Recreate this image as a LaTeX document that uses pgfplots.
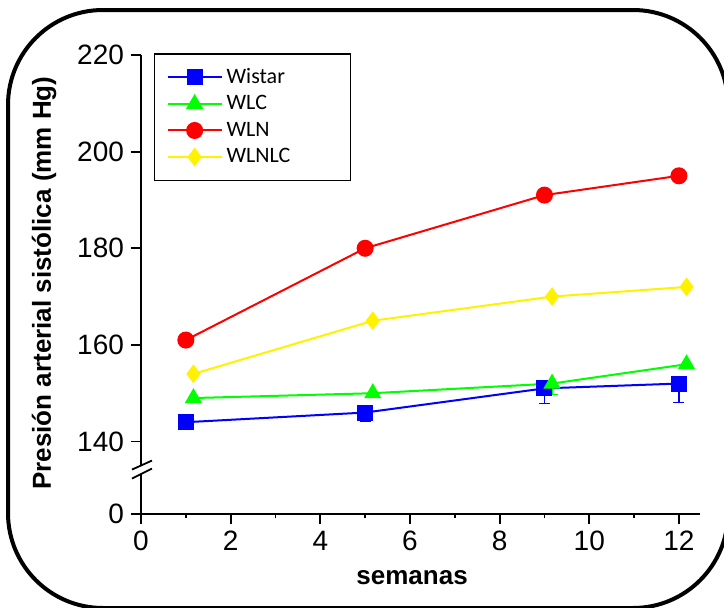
\documentclass[border=0pt]{standalone}
\usepackage{fontspec}
\setmainfont{Liberation Sans}
\newfontfamily\carlito{Carlito}
\usepackage{pgfplots}
\usepackage{pgfplotstable}
\pgfplotsset{compat=1.18}

\pgfplotstableread{
x y em
1 144 0
5 146 1.8
9 151 3.1
12 152 3.9
}\wistar
\pgfplotstableread{
x y em
1.17 149 0
5.17 150 0
9.17 152 2.2
12.17 156 0
}\wlc
\pgfplotstableread{
x y
1 161
5 180
9 191
12 195
}\wln
\pgfplotstableread{
x y
1.17 154
5.17 165
9.17 170
12.17 172
}\wlnlc

\begin{document}
\begin{tikzpicture}
\useasboundingbox (0,0) rectangle (362pt,303.5pt);
\draw[line width=2pt, rounded corners=47.5pt] (4pt,-0.5pt) rectangle (364pt,298.5pt);
\begin{axis}[
  at={(70.5pt,46.5pt)}, anchor=south west,
  scale only axis, width=279.5pt, height=229.5pt,
  xmin=0, xmax=12.47, ymin=125, ymax=220,
  axis x line*=bottom, axis y line*=left,
  x axis line style={line width=0.9pt, -},
  y axis line style={draw=none},
  clip=false,
  xtick={0,2,4,6,8,10,12},
  minor x tick num=1,
  ytick={125,140,160,180,200,220},
  yticklabels={0,140,160,180,200,220},
  tick align=outside,
  major tick length=5pt, minor tick length=2pt,
  every tick/.style={line width=0.9pt, black},
  tick label style={font=\fontsize{14}{16}\selectfont},
  /pgf/number format/assume math mode=true,
  xlabel={semanas},
  ylabel={Presión arterial sistólica (mm Hg)},
  label style={font=\bfseries\fontsize{13}{15}\selectfont},
  xlabel style={at={(axis description cs:0.485,-0.139)}, anchor=center},
  ylabel style={at={(axis description cs:-0.1735,0.503)}, anchor=center},
  legend image code/.code={\draw[mark repeat=2,mark phase=2] plot coordinates {(0pt,0pt) (13.5pt,0pt) (27pt,0pt)};},
  legend cell align=left,
  legend style={at={(axis description cs:0.023,1.004)}, anchor=north west,
    draw=black, line width=0.8pt, font=\carlito\fontsize{11}{13}\selectfont,
    row sep=0pt, inner ysep=5pt, inner xsep=6pt,
    nodes={inner ysep=0pt, minimum height=13.3pt},
    /tikz/every even column/.append style={text width=54pt}},
]
\addplot[blue, line width=1pt, mark=square*, mark size=3.5pt,
  error bars/.cd, y dir=minus, y explicit,
  error bar style={line width=0.6pt, solid},
  error mark options={rotate=90, mark size=2.75pt, line width=0.6pt}]
  table[x=x, y=y, y error minus=em] {\wistar};
\addlegendentry{Wistar}
\addplot[green, line width=1pt, mark=triangle*, mark size=4pt,
  error bars/.cd, y dir=minus, y explicit,
  error bar style={line width=0.6pt, solid},
  error mark options={rotate=90, mark size=2.75pt, line width=0.6pt}]
  table[x=x, y=y, y error minus=em] {\wlc};
\addlegendentry{WLC}
\addplot[red, line width=1pt, mark=*, mark size=3.75pt] table[x=x, y=y] {\wln};
\addlegendentry{WLN}
\addplot[yellow, line width=1pt, mark=diamond*, mark size=3.9pt] table[x=x, y=y] {\wlnlc};
\addlegendentry{WLNLC}
% broken y axis
\draw[line width=0.9pt] (axis cs:0,220) -- (axis cs:0,135.1);
\draw[line width=0.9pt] (axis cs:0,133.3) -- (axis cs:0,125);
\draw[line width=0.9pt] (axis cs:-0.2,134.2) -- (axis cs:0.245,136.06);
\draw[line width=0.9pt] (axis cs:-0.2,132.33) -- (axis cs:0.245,134.4);
\end{axis}
\end{tikzpicture}
\end{document}
